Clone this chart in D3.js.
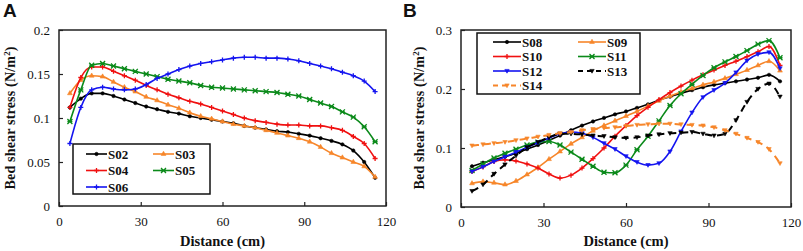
<!DOCTYPE html>
<html>
<head>
<meta charset="utf-8">
<script src="https://cdn.jsdelivr.net/npm/d3@7"></script>
<style>
  body { margin: 0; background: #fff; }
  text { font-family: "Liberation Serif", "Times New Roman", serif; }
</style>
</head>
<body>
<svg id="chart" width="803" height="251"></svg>
<script>
// distance positions (cm), same for every series
var distance = [4, 8, 12, 16, 20, 24, 28, 32, 36, 40, 44, 48, 52, 56, 60, 64, 68, 72, 76, 80, 84, 88, 92, 96, 100, 104, 108, 112, 116];

// panel A series
var s02 = [0.112, 0.122, 0.128, 0.128, 0.125, 0.121, 0.117, 0.113, 0.110, 0.107, 0.105, 0.102, 0.100, 0.098, 0.096, 0.094, 0.091, 0.089, 0.087, 0.085, 0.084, 0.082, 0.080, 0.077, 0.074, 0.070, 0.063, 0.050, 0.032];
var s03 = [0.128, 0.143, 0.148, 0.147, 0.141, 0.135, 0.130, 0.124, 0.120, 0.115, 0.111, 0.106, 0.102, 0.099, 0.096, 0.093, 0.091, 0.089, 0.086, 0.083, 0.080, 0.077, 0.073, 0.067, 0.060, 0.055, 0.050, 0.045, 0.033];
var s04 = [0.112, 0.146, 0.158, 0.158, 0.153, 0.148, 0.143, 0.137, 0.132, 0.127, 0.123, 0.119, 0.116, 0.112, 0.108, 0.104, 0.100, 0.097, 0.095, 0.093, 0.092, 0.092, 0.091, 0.091, 0.089, 0.086, 0.079, 0.071, 0.054];
var s05 = [0.096, 0.132, 0.160, 0.162, 0.159, 0.156, 0.153, 0.150, 0.147, 0.144, 0.142, 0.140, 0.137, 0.135, 0.134, 0.133, 0.132, 0.131, 0.130, 0.129, 0.127, 0.125, 0.121, 0.117, 0.113, 0.107, 0.101, 0.090, 0.073];
var s06 = [0.071, 0.112, 0.132, 0.135, 0.133, 0.132, 0.133, 0.138, 0.145, 0.150, 0.155, 0.159, 0.162, 0.164, 0.166, 0.168, 0.169, 0.169, 0.168, 0.168, 0.167, 0.165, 0.162, 0.159, 0.156, 0.152, 0.148, 0.142, 0.130];

// panel B series
var s08 = [0.069, 0.075, 0.080, 0.085, 0.091, 0.098, 0.105, 0.113, 0.121, 0.130, 0.138, 0.145, 0.151, 0.157, 0.162, 0.168, 0.174, 0.181, 0.187, 0.193, 0.198, 0.203, 0.207, 0.210, 0.213, 0.216, 0.219, 0.224, 0.213];
var s09 = [0.040, 0.043, 0.041, 0.038, 0.044, 0.055, 0.067, 0.081, 0.094, 0.107, 0.118, 0.129, 0.138, 0.146, 0.154, 0.162, 0.171, 0.180, 0.188, 0.195, 0.201, 0.207, 0.212, 0.218, 0.225, 0.232, 0.240, 0.247, 0.231];
var s10 = [0.060, 0.068, 0.077, 0.080, 0.078, 0.073, 0.066, 0.056, 0.049, 0.054, 0.066, 0.082, 0.100, 0.120, 0.138, 0.155, 0.169, 0.182, 0.194, 0.205, 0.215, 0.224, 0.232, 0.240, 0.247, 0.255, 0.263, 0.272, 0.240];
var s11 = [0.062, 0.073, 0.083, 0.091, 0.098, 0.105, 0.110, 0.111, 0.105, 0.093, 0.081, 0.069, 0.059, 0.058, 0.071, 0.097, 0.120, 0.146, 0.172, 0.192, 0.208, 0.223, 0.236, 0.246, 0.255, 0.265, 0.276, 0.282, 0.253];
var s12 = [0.060, 0.068, 0.077, 0.085, 0.093, 0.101, 0.109, 0.117, 0.124, 0.127, 0.125, 0.118, 0.108, 0.098, 0.086, 0.076, 0.071, 0.074, 0.094, 0.128, 0.160, 0.186, 0.198, 0.210, 0.228, 0.248, 0.259, 0.262, 0.235];
var s13 = [0.027, 0.038, 0.056, 0.072, 0.087, 0.101, 0.110, 0.118, 0.124, 0.124, 0.123, 0.121, 0.120, 0.118, 0.117, 0.118, 0.121, 0.123, 0.125, 0.126, 0.127, 0.124, 0.121, 0.124, 0.147, 0.178, 0.200, 0.209, 0.187];
var s14 = [0.104, 0.106, 0.108, 0.110, 0.113, 0.116, 0.119, 0.122, 0.125, 0.127, 0.130, 0.132, 0.134, 0.135, 0.137, 0.139, 0.140, 0.141, 0.141, 0.140, 0.139, 0.138, 0.135, 0.130, 0.124, 0.117, 0.110, 0.098, 0.074];

var xTicks = [0, 30, 60, 90, 120];
var yTicksA = [0, 0.05, 0.1, 0.15, 0.2];
var yTicksB = [0, 0.1, 0.2, 0.3];

var orange = "#f7862a", red = "#f01010", green = "#0b8a1a", blue = "#1414f0";

var seriesA = [
  {name: "S02", values: s02, color: "#000", mark: "dot"},
  {name: "S03", values: s03, color: orange, mark: "tri"},
  {name: "S04", values: s04, color: red, mark: "plus"},
  {name: "S05", values: s05, color: green, mark: "cross"},
  {name: "S06", values: s06, color: blue, mark: "plus"}
];
var seriesB = [
  {name: "S08", values: s08, color: "#000", mark: "dot"},
  {name: "S09", values: s09, color: orange, mark: "tri"},
  {name: "S10", values: s10, color: red, mark: "plus"},
  {name: "S11", values: s11, color: green, mark: "cross"},
  {name: "S12", values: s12, color: blue, mark: "triDown"},
  {name: "S13", values: s13, color: "#000", mark: "triDown", dash: "7,5"},
  {name: "S14", values: s14, color: orange, mark: "triDown", dash: "7,5"}
];

var svg = d3.select("#chart");

function markPath(type) {
  if (type === "dot") return d3.symbol(d3.symbolCircle, 9)();
  if (type === "tri") return d3.symbol(d3.symbolTriangle, 10)();
  if (type === "triDown") return "M-2.2,-1.6L2.2,-1.6L0,2.2Z";
  if (type === "plus") return "M-2.5,0L2.5,0M0,-2.5L0,2.5";
  return "M-2.5,-2.5L2.5,2.5M-2.5,2.5L2.5,-2.5M-2.5,0L2.5,0";
}

function drawMark(g, s, x, y) {
  g.append("path")
    .attr("transform", "translate(" + x + "," + y + ")")
    .attr("d", markPath(s.mark))
    .attr("fill", s.color)
    .attr("stroke", s.color)
    .attr("stroke-width", (s.mark === "plus" || s.mark === "cross") ? 1.3 : 0.6);
}

function drawPanel(opt) {
  var g = svg.append("g");

  var x = d3.scaleLinear().domain([0, 120]).range([opt.left, opt.right]);
  var y = d3.scaleLinear().domain([0, opt.yMax]).range([opt.bottom, opt.top]);

  // inward ticks on bottom and left
  g.append("g")
    .attr("transform", "translate(0," + opt.bottom + ")")
    .call(d3.axisBottom(x).tickValues(xTicks).tickSizeInner(-4).tickSizeOuter(0).tickPadding(11))
    .call(a => a.select(".domain").remove());
  g.append("g")
    .attr("transform", "translate(" + opt.left + ",0)")
    .call(d3.axisLeft(y).tickValues(opt.yTicks).tickFormat(d => d === 0 ? "0" : String(+d.toFixed(2)))
      .tickSizeInner(-4).tickSizeOuter(0).tickPadding(9))
    .call(a => a.select(".domain").remove());
  g.selectAll(".tick text")
    .attr("font-family", "Liberation Serif, Times New Roman, serif")
    .attr("font-size", 13).attr("fill", "#111");
  g.selectAll(".tick line").attr("stroke", "#222").attr("stroke-width", 1.2);

  var line = d3.line()
    .x((d, i) => x(distance[i]))
    .y(d => y(d))
    .curve(d3.curveMonotoneX);

  opt.series.forEach(function(s) {
    g.append("path")
      .attr("d", line(s.values))
      .attr("fill", "none")
      .attr("stroke", s.color)
      .attr("stroke-width", s.dash ? 2 : 1.6)
      .attr("stroke-dasharray", s.dash || null);
    var mg = g.append("g");
    s.values.forEach(function(v, i) {
      drawMark(mg, s, x(distance[i]), y(v));
    });
  });

  // frame
  g.append("rect")
    .attr("x", opt.left).attr("y", opt.top)
    .attr("width", opt.right - opt.left).attr("height", opt.bottom - opt.top)
    .attr("fill", "none").attr("stroke", "#222").attr("stroke-width", 1.5);

  // legend
  var lg = opt.legend;
  g.append("rect")
    .attr("x", lg.x).attr("y", lg.y).attr("width", lg.w).attr("height", lg.h)
    .attr("fill", "#fff").attr("stroke", "#111").attr("stroke-width", 1.5);
  opt.series.forEach(function(s, i) {
    var col = i % 2, row = Math.floor(i / 2);
    var x0 = lg.x + lg.pad + col * lg.colW;
    var yy = lg.y + lg.rowTop + row * lg.rowH;
    g.append("line")
      .attr("x1", x0).attr("x2", x0 + lg.lineW).attr("y1", yy).attr("y2", yy)
      .attr("stroke", s.color).attr("stroke-width", s.dash ? 2 : 1.6)
      .attr("stroke-dasharray", s.dash ? "5,4" : null);
    drawMark(g, s, x0 + lg.lineW / 2, yy);
    g.append("text")
      .attr("x", x0 + lg.lineW + 1).attr("y", yy + 4.5)
      .attr("font-size", 13).attr("font-weight", "bold").attr("fill", "#111")
      .text(s.name);
  });

  // axis titles
  g.append("text")
    .attr("transform", "translate(" + opt.yLabelX + "," + 118 + ") rotate(-90)")
    .attr("text-anchor", "middle")
    .attr("font-size", 14).attr("font-weight", "bold").attr("fill", "#111")
    .attr("textLength", 143).attr("lengthAdjust", "spacing")
    .html("Bed shear stress (N/m<tspan dy='-5' font-size='9'>2</tspan><tspan dy='5'>)</tspan>");
  g.append("text")
    .attr("x", (opt.left + opt.right) / 2).attr("y", 246)
    .attr("text-anchor", "middle")
    .attr("font-size", 14.5).attr("font-weight", "bold").attr("fill", "#111")
    .text("Distance (cm)");

  g.append("text")
    .attr("x", opt.labelX).attr("y", 17)
    .attr("font-size", 19).attr("font-weight", "bold").attr("fill", "#111")
    .style("font-family", "Liberation Sans, Arial, sans-serif")
    .text(opt.label);
}

drawPanel({
  label: "A", labelX: 3, series: seriesA,
  left: 59, right: 386, top: 30, bottom: 206,
  yMax: 0.2, yTicks: yTicksA, yLabelX: 15,
  legend: {x: 73, y: 144, w: 137, h: 50, pad: 13, colW: 67, lineW: 21, rowTop: 10, rowH: 16.5}
});

drawPanel({
  label: "B", labelX: 403, series: seriesB,
  left: 461, right: 791, top: 30, bottom: 207,
  yMax: 0.3, yTicks: yTicksB, yLabelX: 424,
  legend: {x: 477, y: 33, w: 163, h: 61, pad: 16, colW: 85, lineW: 28, rowTop: 9, rowH: 14.5}
});
</script>
</body>
</html>
